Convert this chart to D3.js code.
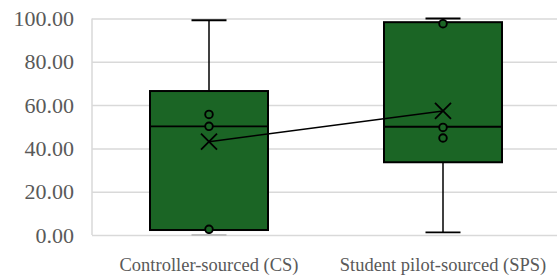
<!DOCTYPE html>
<html>
<head>
<meta charset="utf-8">
<script src="https://cdn.jsdelivr.net/npm/d3@7"></script>
<style>
  body { margin: 0; background: #fff; }
  svg { display: block; }
</style>
</head>
<body>
<svg id="chart"></svg>
<script>
const categories = ["Controller-sourced (CS)", "Student pilot-sourced (SPS)"];
const whiskerLow = [0, 1.2];
const q1 = [2.3, 33.6];
const median = [50.2, 50.0];
const q3 = [66.5, 98.3];
const whiskerHigh = [99.2, 100];
const means = [43.1, 57.3];
const points = [[55.7, 50.2, 2.6], [97.6, 49.7, 44.8]];
const yTicks = [0, 20, 40, 60, 80, 100];

const width = 557;
const height = 280;
const left = 92;
const green = "#1b6525";

const svg = d3.select("#chart").attr("width", width).attr("height", height);

const y = d3.scaleLinear().domain([0, 100]).range([235, 18.5]);
const x = d3.scaleBand().domain(categories).range([left, 560]);
const boxW = 118;
const capW = 35;

// gridlines + labels
const yAxis = svg.append("g")
  .attr("transform", `translate(${left},0)`)
  .call(d3.axisLeft(y).tickValues(yTicks).tickFormat(d3.format(".2f")).tickSize(-(width - left)).tickPadding(18));
yAxis.select(".domain").remove();
yAxis.selectAll(".tick line").attr("stroke", "#d9d9d9").attr("stroke-width", 1.5);
yAxis.selectAll(".tick text")
  .attr("fill", "#595959")
  .attr("font-family", "'Liberation Serif', 'Times New Roman', serif")
  .attr("font-size", 22);

svg.append("line")
  .attr("x1", left).attr("x2", left)
  .attr("y1", y(100)).attr("y2", y(0))
  .attr("stroke", "#d9d9d9").attr("stroke-width", 1.5);

// x labels
svg.append("g").selectAll("text")
  .data(categories)
  .join("text")
  .attr("x", d => x(d) + x.bandwidth() / 2)
  .attr("y", 271)
  .attr("text-anchor", "middle")
  .attr("fill", "#595959")
  .attr("font-family", "'Liberation Serif', 'Times New Roman', serif")
  .attr("font-size", 18.5)
  .text(d => d);

const boxes = svg.append("g").selectAll("g")
  .data(categories)
  .join("g")
  .attr("transform", d => `translate(${x(d) + x.bandwidth() / 2},0)`);

// whiskers
boxes.append("line")
  .attr("y1", (d, i) => y(whiskerHigh[i])).attr("y2", (d, i) => y(q3[i]))
  .attr("stroke", "#000").attr("stroke-width", 1.5);
boxes.append("line")
  .attr("y1", (d, i) => y(whiskerLow[i])).attr("y2", (d, i) => y(q1[i]))
  .attr("stroke", "#000").attr("stroke-width", 1.5);
boxes.append("line")
  .attr("x1", -capW / 2).attr("x2", capW / 2)
  .attr("y1", (d, i) => y(whiskerHigh[i])).attr("y2", (d, i) => y(whiskerHigh[i]))
  .attr("stroke", "#000").attr("stroke-width", 1.8);
boxes.append("line")
  .attr("x1", -capW / 2).attr("x2", capW / 2)
  .attr("y1", (d, i) => y(whiskerLow[i])).attr("y2", (d, i) => y(whiskerLow[i]))
  .attr("stroke", (d, i) => whiskerLow[i] === 0 ? "#bfbfbf" : "#000").attr("stroke-width", 1.8);

// box
boxes.append("rect")
  .attr("x", -boxW / 2).attr("width", boxW)
  .attr("y", (d, i) => y(q3[i]))
  .attr("height", (d, i) => y(q1[i]) - y(q3[i]))
  .attr("fill", green).attr("stroke", "#000").attr("stroke-width", 2);
boxes.append("line")
  .attr("x1", -boxW / 2).attr("x2", boxW / 2)
  .attr("y1", (d, i) => y(median[i])).attr("y2", (d, i) => y(median[i]))
  .attr("stroke", "#000").attr("stroke-width", 1.8);

// mean line
const meanLine = d3.line()
  .x((d, i) => x(categories[i]) + x.bandwidth() / 2)
  .y(d => y(d));
svg.append("path")
  .datum(means)
  .attr("d", meanLine)
  .attr("fill", "none").attr("stroke", "#000").attr("stroke-width", 1.5);

// points
boxes.each(function (d, i) {
  d3.select(this).selectAll("circle")
    .data(points[i])
    .join("circle")
    .attr("cy", v => y(v))
    .attr("r", 3.8)
    .attr("fill", green).attr("stroke", "#000").attr("stroke-width", 1.9);
});

// mean markers
const xs = 8;
boxes.append("path")
  .attr("d", (d, i) => {
    const cy = y(means[i]);
    return `M${-xs},${cy - xs}L${xs},${cy + xs}M${-xs},${cy + xs}L${xs},${cy - xs}`;
  })
  .attr("stroke", "#000").attr("stroke-width", 1.8).attr("fill", "none");
</script>
</body>
</html>
